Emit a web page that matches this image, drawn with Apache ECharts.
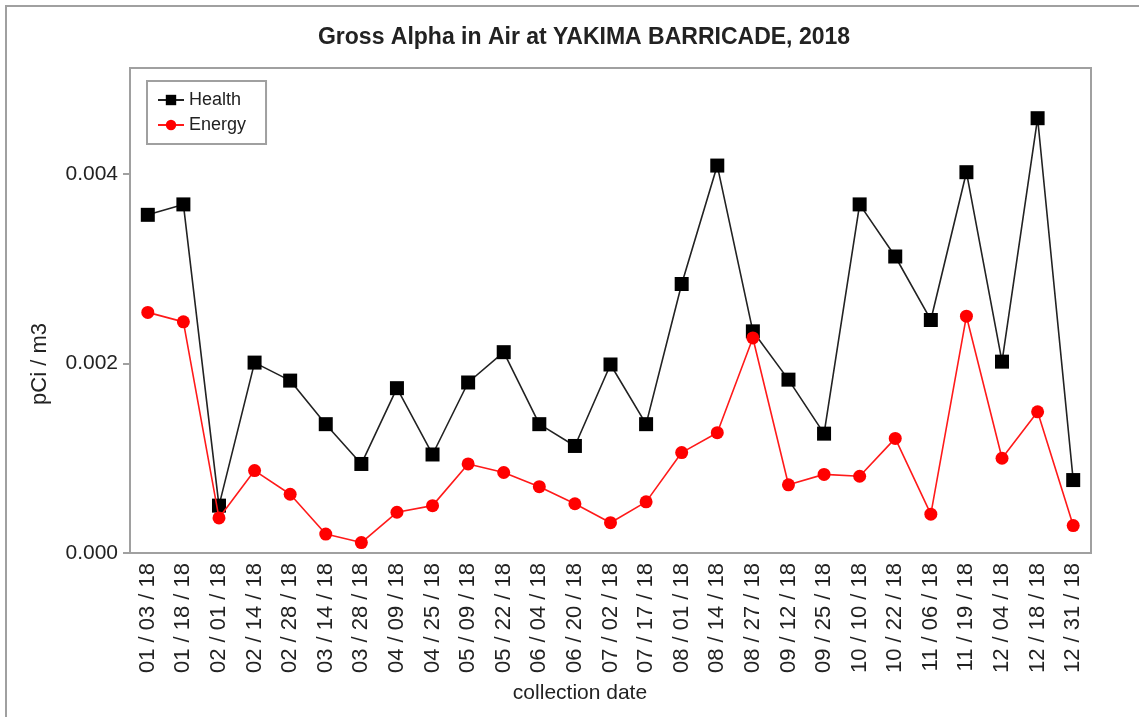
<!DOCTYPE html>
<html>
<head>
<meta charset="utf-8">
<script src="https://cdn.jsdelivr.net/npm/echarts@6/dist/echarts.min.js"></script>
<style>
  html, body { margin: 0; padding: 0; background: #fff; }
  #chart { width: 1139px; height: 717px; }
</style>
</head>
<body>
<div id="chart"></div>
<script>
const dates = [
  '01 / 03 / 18', '01 / 18 / 18', '02 / 01 / 18', '02 / 14 / 18', '02 / 28 / 18',
  '03 / 14 / 18', '03 / 28 / 18', '04 / 09 / 18', '04 / 25 / 18', '05 / 09 / 18',
  '05 / 22 / 18', '06 / 04 / 18', '06 / 20 / 18', '07 / 02 / 18', '07 / 17 / 18',
  '08 / 01 / 18', '08 / 14 / 18', '08 / 27 / 18', '09 / 12 / 18', '09 / 25 / 18',
  '10 / 10 / 18', '10 / 22 / 18', '11 / 06 / 18', '11 / 19 / 18', '12 / 04 / 18',
  '12 / 18 / 18', '12 / 31 / 18'
]
const health = [
  0.00357, 0.00368, 0.00050, 0.00201, 0.00182, 0.00136, 0.00094, 0.00174, 0.00104,
  0.00180, 0.00212, 0.00136, 0.00113, 0.00199, 0.00136, 0.00284, 0.00409, 0.00234,
  0.00183, 0.00126, 0.00368, 0.00313, 0.00246, 0.00402, 0.00202, 0.00459, 0.00077
]
const energy = [
  0.00254, 0.00244, 0.00037, 0.00087, 0.00062, 0.00020, 0.00011, 0.00043, 0.00050,
  0.00094, 0.00085, 0.00070, 0.00052, 0.00032, 0.00054, 0.00106, 0.00127, 0.00227,
  0.00072, 0.00083, 0.00081, 0.00121, 0.00041, 0.00250, 0.00100, 0.00149, 0.00029
]
const yTicks = [0, 0.002, 0.004]

const font = '"Liberation Sans", Arial, sans-serif'
const gray = '#a0a0a0'

const chart = echarts.init(document.getElementById('chart'))
chart.setOption({
  backgroundColor: '#fff',
  animation: false,
  textStyle: { fontFamily: font },
  title: {
    text: 'Gross Alpha in Air at YAKIMA BARRICADE, 2018',
    left: 579,
    textAlign: 'center',
    top: 21,
    textStyle: { fontSize: 23, fontWeight: 'bold', color: '#222', fontFamily: font }
  },
  legend: {
    orient: 'vertical',
    left: 147,
    top: 81,
    padding: [10, 20, 10, 10],
    itemGap: 7,
    itemWidth: 26,
    itemHeight: 13,
    borderColor: gray,
    borderWidth: 2,
    backgroundColor: '#fff',
    textStyle: { fontSize: 18, color: '#222', fontFamily: font },
    data: ['Health', 'Energy']
  },
  grid: {
    left: 130,
    top: 68,
    right: 48,
    bottom: 164,
    show: true,
    borderColor: gray,
    borderWidth: 2,
    containLabel: false
  },
  graphic: [
    {
      type: 'rect',
      shape: { x: 6, y: 6, width: 1200, height: 800 },
      style: { fill: 'none', stroke: gray, lineWidth: 2 },
      silent: true,
      z: -1
    },
    {
      type: 'text',
      x: 40,
      y: 364,
      rotation: Math.PI / 2,
      style: {
        text: 'pCi / m3',
        fontSize: 22,
        fontFamily: font,
        fill: '#222',
        align: 'center',
        verticalAlign: 'middle'
      }
    },
    {
      type: 'text',
      x: 580,
      y: 693,
      style: {
        text: 'collection date',
        fontSize: 21,
        fontFamily: font,
        fill: '#222',
        align: 'center',
        verticalAlign: 'middle'
      }
    }
  ],
  xAxis: {
    type: 'category',
    data: dates,
    boundaryGap: true,
    axisLine: { lineStyle: { color: gray, width: 2 } },
    axisTick: { alignWithLabel: true, interval: 0, length: 6, lineStyle: { color: gray, width: 2 } },
    axisLabel: {
      interval: 0,
      rotate: 90,
      margin: 10,
      fontSize: 22,
      color: '#222',
      fontFamily: font
    }
  },
  yAxis: {
    type: 'value',
    min: 0,
    max: 0.00512,
    interval: 0.002,
    splitLine: { show: false },
    axisLine: { show: true, lineStyle: { color: gray, width: 2 } },
    axisTick: { show: true, length: 7, customValues: yTicks, lineStyle: { color: gray, width: 2 } },
    axisLabel: {
      customValues: yTicks,
      margin: 12,
      fontSize: 21,
      color: '#222',
      fontFamily: font,
      formatter: (v) => v.toFixed(3)
    }
  },
  series: [
    {
      name: 'Health',
      type: 'line',
      data: health,
      symbol: 'rect',
      symbolSize: 14,
      itemStyle: { color: '#000' },
      lineStyle: { color: '#222', width: 1.6 },
      z: 2
    },
    {
      name: 'Energy',
      type: 'line',
      data: energy,
      symbol: 'circle',
      symbolSize: 13,
      itemStyle: { color: '#ff0000' },
      lineStyle: { color: '#ff1a1a', width: 1.6 },
      z: 3
    }
  ]
})
</script>
</body>
</html>
